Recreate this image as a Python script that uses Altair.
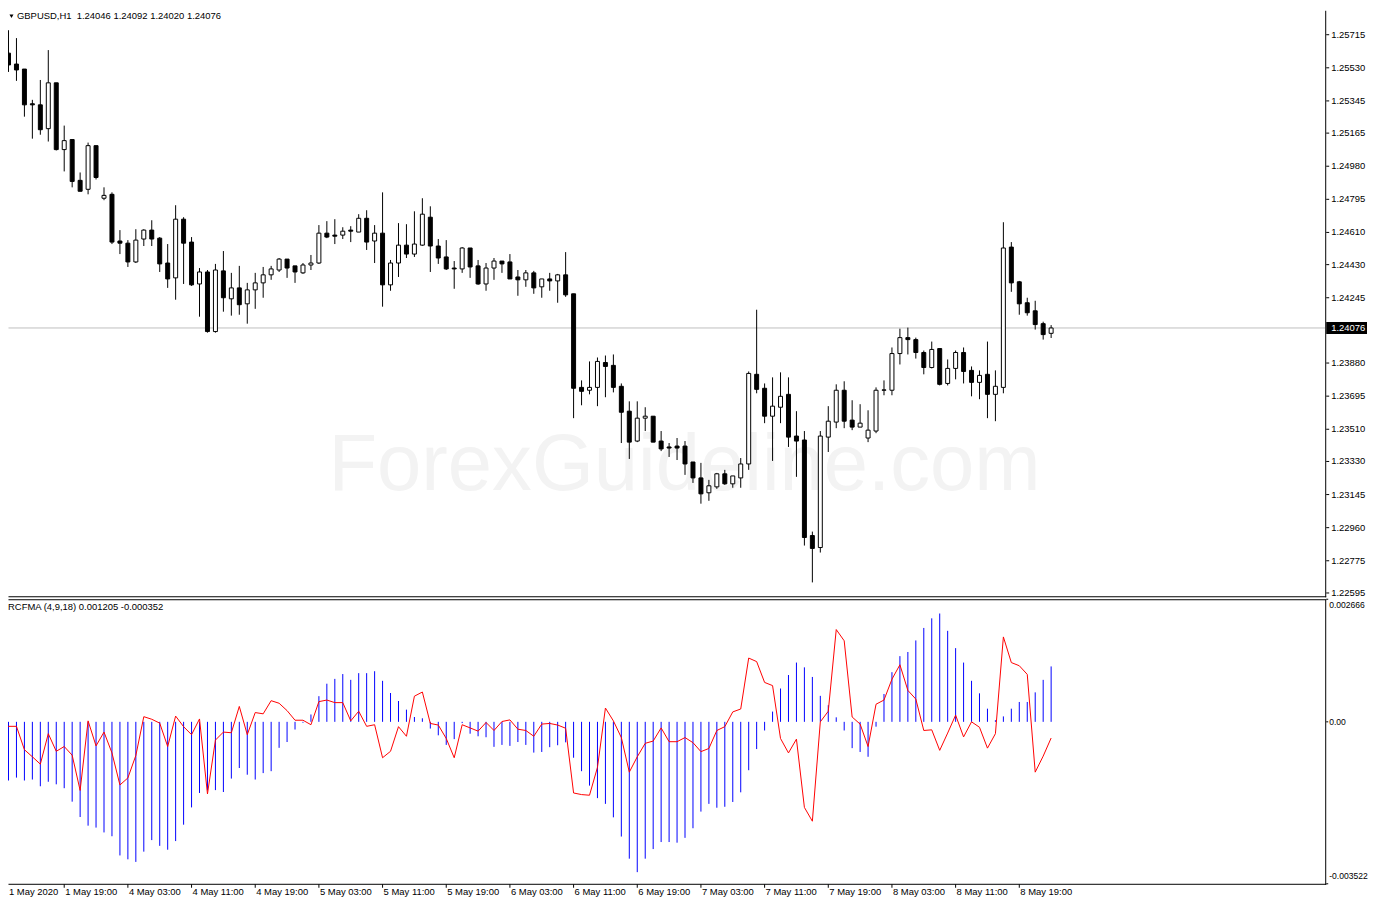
import altair as alt
import pandas as pd

# ---------------- data (GBPUSD, H1) ----------------
bar_index = list(range(133))

opens = [1.25551, 1.25612, 1.25551, 1.25523, 1.25329, 1.25323, 1.25190, 1.25446, 1.25073, 1.25129,
         1.24901, 1.24851, 1.25095, 1.24801, 1.24823, 1.24562, 1.24550, 1.24445, 1.24573, 1.24623,
         1.24578, 1.24439, 1.24356, 1.24684, 1.24556, 1.24322, 1.24389, 1.24056, 1.24395, 1.24239,
         1.24300, 1.24211, 1.24289, 1.24328, 1.24373, 1.24400, 1.24461, 1.24423, 1.24384, 1.24428,
         1.24439, 1.24606, 1.24595, 1.24595, 1.24623, 1.24612, 1.24689, 1.24562, 1.24606, 1.24317,
         1.24439, 1.24539, 1.24489, 1.24539, 1.24695, 1.24534, 1.24473, 1.24411, 1.24406, 1.24523,
         1.24423, 1.24322, 1.24411, 1.24450, 1.24445, 1.24361, 1.24345, 1.24384, 1.24306, 1.24350,
         1.24339, 1.24373, 1.24267, 1.23744, 1.23728, 1.23744, 1.23883, 1.23867, 1.23750, 1.23611,
         1.23444, 1.23572, 1.23583, 1.23444, 1.23411, 1.23416, 1.23416, 1.23327, 1.23238, 1.23155,
         1.23188, 1.23261, 1.23205, 1.23238, 1.23316, 1.23817, 1.23739, 1.23583, 1.23633, 1.23705,
         1.23472, 1.23450, 1.22916, 1.22849, 1.23466, 1.23550, 1.23728, 1.23561, 1.23522, 1.23461,
         1.23500, 1.23728, 1.23728, 1.23933, 1.24022, 1.24011, 1.23939, 1.23855, 1.23961, 1.23766,
         1.23850, 1.23939, 1.23839, 1.23772, 1.23817, 1.23705, 1.23744, 1.24528, 1.24334, 1.24217,
         1.24172, 1.24100, 1.24046]

highs = [1.25674, 1.25740, 1.25696, 1.25523, 1.25351, 1.25462, 1.25629, 1.25446, 1.25207, 1.25129,
         1.24945, 1.25112, 1.25095, 1.24862, 1.24834, 1.24623, 1.24567, 1.24628, 1.24628, 1.24678,
         1.24584, 1.24545, 1.24762, 1.24695, 1.24584, 1.24411, 1.24400, 1.24434, 1.24506, 1.24384,
         1.24423, 1.24328, 1.24384, 1.24417, 1.24423, 1.24467, 1.24461, 1.24423, 1.24439, 1.24484,
         1.24651, 1.24673, 1.24684, 1.24639, 1.24645, 1.24712, 1.24734, 1.24651, 1.24834, 1.24456,
         1.24662, 1.24656, 1.24728, 1.24801, 1.24756, 1.24573, 1.24567, 1.24450, 1.24528, 1.24523,
         1.24456, 1.24439, 1.24467, 1.24450, 1.24489, 1.24400, 1.24400, 1.24395, 1.24350, 1.24384,
         1.24378, 1.24500, 1.24267, 1.23783, 1.23889, 1.23911, 1.23922, 1.23928, 1.23766, 1.23666,
         1.23666, 1.23633, 1.23583, 1.23500, 1.23433, 1.23461, 1.23444, 1.23327, 1.23322, 1.23227,
         1.23266, 1.23283, 1.23249, 1.23349, 1.23833, 1.24178, 1.23766, 1.23800, 1.23828, 1.23800,
         1.23611, 1.23500, 1.22938, 1.23500, 1.23639, 1.23761, 1.23778, 1.23672, 1.23650, 1.23616,
         1.23744, 1.23783, 1.23967, 1.24072, 1.24078, 1.24022, 1.23950, 1.24000, 1.23961, 1.23900,
         1.23950, 1.23967, 1.23861, 1.23839, 1.24000, 1.23839, 1.24667, 1.24556, 1.24339, 1.24245,
         1.24228, 1.24111, 1.24092]

lows = [1.25329, 1.25507, 1.25457, 1.25257, 1.25134, 1.25156, 1.25118, 1.25068, 1.24951, 1.24862,
        1.24840, 1.24823, 1.24906, 1.24790, 1.24545, 1.24489, 1.24417, 1.24439, 1.24534, 1.24534,
        1.24389, 1.24300, 1.24234, 1.24322, 1.24311, 1.24139, 1.24050, 1.24050, 1.24167, 1.24145,
        1.24150, 1.24100, 1.24183, 1.24245, 1.24345, 1.24389, 1.24356, 1.24328, 1.24378, 1.24400,
        1.24434, 1.24578, 1.24545, 1.24573, 1.24556, 1.24612, 1.24512, 1.24439, 1.24195, 1.24284,
        1.24361, 1.24467, 1.24473, 1.24534, 1.24389, 1.24434, 1.24400, 1.24295, 1.24384, 1.24356,
        1.24317, 1.24284, 1.24345, 1.24384, 1.24350, 1.24256, 1.24306, 1.24267, 1.24245, 1.24284,
        1.24217, 1.24250, 1.23572, 1.23644, 1.23705, 1.23639, 1.23689, 1.23716, 1.23433, 1.23344,
        1.23438, 1.23500, 1.23438, 1.23388, 1.23355, 1.23338, 1.23255, 1.23210, 1.23094, 1.23110,
        1.23177, 1.23199, 1.23183, 1.23183, 1.23283, 1.23711, 1.23544, 1.23333, 1.23544, 1.23411,
        1.23244, 1.22860, 1.22654, 1.22821, 1.23383, 1.23516, 1.23516, 1.23505, 1.23522, 1.23438,
        1.23488, 1.23700, 1.23700, 1.23872, 1.23928, 1.23905, 1.23817, 1.23850, 1.23755, 1.23755,
        1.23789, 1.23766, 1.23694, 1.23678, 1.23572, 1.23555, 1.23711, 1.24278, 1.24150, 1.24145,
        1.24067, 1.24011, 1.24020]

closes = [1.25607, 1.25546, 1.25518, 1.25323, 1.25323, 1.25184, 1.25446, 1.25073, 1.25123, 1.24895,
          1.24840, 1.25095, 1.24917, 1.24817, 1.24556, 1.24550, 1.24445, 1.24567, 1.24623, 1.24573,
          1.24434, 1.24350, 1.24684, 1.24550, 1.24317, 1.24389, 1.24056, 1.24400, 1.24245, 1.24300,
          1.24206, 1.24289, 1.24328, 1.24373, 1.24406, 1.24461, 1.24411, 1.24389, 1.24428, 1.24439,
          1.24606, 1.24584, 1.24589, 1.24617, 1.24617, 1.24689, 1.24556, 1.24606, 1.24317, 1.24439,
          1.24539, 1.24489, 1.24545, 1.24712, 1.24534, 1.24467, 1.24406, 1.24406, 1.24523, 1.24417,
          1.24322, 1.24411, 1.24450, 1.24434, 1.24350, 1.24345, 1.24384, 1.24300, 1.24350, 1.24339,
          1.24373, 1.24261, 1.23739, 1.23722, 1.23744, 1.23889, 1.23861, 1.23744, 1.23605, 1.23438,
          1.23572, 1.23583, 1.23438, 1.23400, 1.23405, 1.23405, 1.23316, 1.23238, 1.23149, 1.23194,
          1.23261, 1.23205, 1.23249, 1.23316, 1.23822, 1.23733, 1.23583, 1.23639, 1.23694, 1.23466,
          1.23444, 1.22905, 1.22844, 1.23472, 1.23555, 1.23728, 1.23555, 1.23522, 1.23544, 1.23505,
          1.23728, 1.23730, 1.23933, 1.24022, 1.24011, 1.23939, 1.23855, 1.23956, 1.23761, 1.23850,
          1.23939, 1.23833, 1.23772, 1.23811, 1.23705, 1.23750, 1.24523, 1.24328, 1.24211, 1.24161,
          1.24095, 1.24039, 1.24076]

# RCFMA (4,9,18): histogram (blue) and signal line (red)
rcfma_hist = [-0.001429, -0.001276, -0.001213, -0.001276, -0.001255, -0.001401, -0.001303, -0.001359, -0.001443, -0.001736,
              -0.002070, -0.002258, -0.002300, -0.002405, -0.002488, -0.002906, -0.002990, -0.003046, -0.002823, -0.002572,
              -0.002697, -0.002781, -0.002593, -0.002237, -0.001861, -0.001547, -0.001492, -0.001485, -0.001526, -0.001234,
              -0.001004, -0.001150, -0.001255, -0.001115, -0.001073, -0.000565, -0.000439, -0.000167, -0.000020, 0.000160,
              0.000558, 0.000829, 0.000934, 0.001039, 0.000913, 0.001059, 0.001059, 0.001101, 0.000892, 0.000627,
              0.000453, 0.000265, 0.000105, 0.000077, -0.000146, -0.000293, -0.000502, -0.000376, -0.000028, -0.000258,
              -0.000314, -0.000335, -0.000544, -0.000502, -0.000523, -0.000439, -0.000502, -0.000669, -0.000655, -0.000551,
              -0.000509, -0.000446, -0.000781, -0.001073, -0.001387, -0.001659, -0.001784, -0.002077, -0.002495, -0.002976,
              -0.003269, -0.002976, -0.002767, -0.002614, -0.002614, -0.002628, -0.002523, -0.002314, -0.001952, -0.001784,
              -0.001868, -0.001847, -0.001743, -0.001533, -0.001052, -0.000592, -0.000188, 0.000223, 0.000725, 0.001018,
              0.001289, 0.001185, 0.000976, 0.000565, 0.000362, 0.000098, -0.000188, -0.000572, -0.000655, -0.000760,
              -0.000105, 0.000606, 0.001080, 0.001429, 0.001519, 0.001770, 0.002042, 0.002251, 0.002356, 0.001979,
              0.001603, 0.001289, 0.000892, 0.000620, 0.000286, 0.000035, 0.000118, 0.000286, 0.000432, 0.000432,
              0.000641, 0.000913, 0.001205]

rcfma_signal = [-0.000202, -0.000098, -0.000098, -0.000606, -0.000760, -0.000920, -0.000258, -0.000641, -0.000537, -0.000725,
                -0.001492, 0.000021, -0.000523, -0.000223, -0.000676, -0.001373, -0.001220, -0.000732, 0.000112, 0.000056,
                -0.000028, -0.000537, 0.000125, -0.000105, -0.000279, 0.000063, -0.001568, -0.000397, -0.000223, -0.000237,
                0.000335, -0.000279, 0.000202, 0.000174, 0.000460, 0.000404, 0.000244, 0.000035, 0.000035, -0.000063,
                0.000439, 0.000474, 0.000418, 0.000418, 0.000021, 0.000230, -0.000098, -0.000063, -0.000781, -0.000641,
                -0.000105, -0.000314, 0.000558, 0.000648, -0.000035, -0.000070, -0.000362, -0.000781, -0.000063, -0.000132,
                -0.000202, -0.000014, -0.000188, 0.000007, 0.000042, -0.000160, -0.000188, -0.000314, -0.000049, -0.000035,
                -0.000070, -0.000139, -0.001547, -0.001582, -0.001596, -0.000990, 0.000300, 0.000021, -0.000342, -0.001094,
                -0.000760, -0.000467, -0.000418, -0.000132, -0.000432, -0.000432, -0.000342, -0.000453, -0.000648, -0.000579,
                -0.000188, -0.000105, 0.000216, 0.000279, 0.001387, 0.001310, 0.000857, 0.000788, -0.000362, -0.000676,
                -0.000376, -0.001861, -0.002161, 0.000000, 0.000230, 0.002007, 0.001763, 0.000105, -0.000049, -0.000537,
                0.000383, 0.000474, 0.000927, 0.001241, 0.000683, 0.000495, -0.000188, -0.000174, -0.000620, -0.000244,
                0.000146, -0.000328, 0.000000, -0.000118, -0.000572, -0.000258, 0.001847, 0.001289, 0.001220, 0.001032,
                -0.001094, -0.000746, -0.000352]

time_labels = ["1 May 2020", "1 May 19:00", "4 May 03:00", "4 May 11:00", "4 May 19:00", "5 May 03:00",
               "5 May 11:00", "5 May 19:00", "6 May 03:00", "6 May 11:00", "6 May 19:00", "7 May 03:00",
               "7 May 11:00", "7 May 19:00", "8 May 03:00", "8 May 11:00", "8 May 19:00"]
time_label_bars = [0, 8, 16, 24, 32, 40, 48, 56, 64, 72, 80, 88, 96, 104, 112, 120, 128]

price_ticks = [1.25715, 1.25530, 1.25345, 1.25165, 1.24980, 1.24795, 1.24610, 1.24430, 1.24245,
               1.23880, 1.23695, 1.23510, 1.23330, 1.23145, 1.22960, 1.22775, 1.22595]
ind_ticks = [-0.003522, 0.0, 0.002666]
ind_tick_labels = ["-0.003522", "0.00", "0.002666"]
ind_tick_place = ["bottom", "middle", "top"]

symbol = "GBPUSD,H1"
indicator_name = "RCFMA (4,9,18)"
watermark_text = "ForexGuideline.com"

# ---------------- layout constants ----------------
W = 1324
H_MAIN = 589
H_IND = 286
BAR_PX = 8
x0 = 0.9375
x_dom = [x0, x0 + W / BAR_PX]
y_dom = [1.225766, 1.258515]
ind_dom = [-0.003522, 0.002666]
FONT = "Liberation Sans"
FS = 9.5

# ---------------- tables ----------------
df = pd.DataFrame({
    "k": bar_index, "open": opens, "high": highs, "low": lows, "close": closes,
    "hist": rcfma_hist, "sig": rcfma_signal,
})
df["dir"] = ["up" if c >= o else "down" for o, c in zip(opens, closes)]
df["zero"] = 0.0
last = pd.DataFrame({"price": [closes[-1]]})
price_tick_df = pd.DataFrame({"tick": price_ticks, "label": [f"{v:.5f}" for v in price_ticks]})
time_df = pd.DataFrame({"k": time_label_bars, "label": time_labels})
time_df["kpos"] = [max(k, x0) for k in time_label_bars]
ind_tick_df = pd.DataFrame({"tick": ind_ticks, "label": ind_tick_labels, "place": ind_tick_place})

title_str = f"{symbol}\u00a0\u00a0{opens[-1]:.5f} {highs[-1]:.5f} {lows[-1]:.5f} {closes[-1]:.5f}"
ind_str = f"{indicator_name} {rcfma_hist[-1]:.6f} {rcfma_signal[-1]:.6f}"

xs = alt.Scale(domain=x_dom, nice=False, zero=False, padding=0)
ys = alt.Scale(domain=y_dom, nice=False, zero=False, padding=0)
ys_ind = alt.Scale(domain=ind_dom, nice=False, zero=False, padding=0)
X = alt.X("k:Q", scale=xs, axis=None)


def hline(y, x_end):
    return alt.Chart(last).mark_rule(color="black", strokeWidth=1).encode(
        x=alt.value(0.5), x2=alt.value(x_end), y=alt.value(y))


def vline(x, y_end):
    return alt.Chart(last).mark_rule(color="black", strokeWidth=1).encode(
        x=alt.value(x), y=alt.value(0.5), y2=alt.value(y_end))


# ---------------- main (price) panel ----------------
watermark = alt.Chart(last).mark_text(font=FONT, fontSize=80, color="#f3f3f3", align="center",
                                      baseline="alphabetic").encode(
    x=alt.value(680), y=alt.value(482), text=alt.value(watermark_text))
price_line = alt.Chart(last).mark_rule(color="#c0c0c0", strokeWidth=1).encode(
    x=alt.value(0.5), x2=alt.value(W),
    y=alt.Y("price:Q", scale=ys, axis=None))
wicks = alt.Chart(df).mark_rule(color="black", strokeWidth=1, clip=True).encode(
    x=X, y=alt.Y("low:Q", scale=ys, axis=None), y2="high:Q")
bodies = alt.Chart(df).mark_bar(size=4, stroke="black", strokeWidth=1, clip=True, opacity=1).encode(
    x=X, y=alt.Y("open:Q", scale=ys, axis=None), y2="close:Q",
    fill=alt.Fill("dir:N", scale=alt.Scale(domain=["up", "down"], range=["white", "black"]), legend=None))
title = alt.Chart(last).mark_text(align="left", baseline="middle", font=FONT, fontSize=FS,
                                  color="black").encode(
    x=alt.value(9), y=alt.value(6), text=alt.value(title_str))
tri = alt.Chart(last).mark_point(shape="triangle-down", filled=True, size=16, color="black",
                                 opacity=1).encode(x=alt.value(3.5), y=alt.value(6))
price_tick_marks = alt.Chart(price_tick_df).mark_rule(color="black", strokeWidth=1).encode(
    x=alt.value(W + 1), x2=alt.value(W + 4), y=alt.Y("tick:Q", scale=ys, axis=None))
price_tick_text = alt.Chart(price_tick_df).mark_text(align="left", baseline="middle", font=FONT,
                                                     fontSize=FS, color="black").encode(
    x=alt.value(W + 6), y=alt.Y("tick:Q", scale=ys, axis=None), text="label:N")
price_box = alt.Chart(last).mark_rect(color="black", yOffset=-6, y2Offset=6).encode(
    x=alt.value(W + 1), x2=alt.value(W + 42),
    y=alt.Y("price:Q", scale=ys, axis=None), y2="price:Q")
price_box_text = alt.Chart(last).mark_text(color="white", align="left", baseline="middle",
                                           font=FONT, fontSize=FS).encode(
    x=alt.value(W + 6), y=alt.Y("price:Q", scale=ys, axis=None),
    text=alt.Text("price:Q", format=".5f"))

main = alt.layer(watermark, price_line, wicks, bodies, title, tri,
                 hline(H_MAIN + 0.5, W + 1), vline(W + 0.5, H_MAIN + 1),
                 price_tick_marks, price_tick_text, price_box, price_box_text).properties(
    width=W, height=H_MAIN)

# ---------------- indicator panel ----------------
hist = alt.Chart(df).mark_rule(color="#0000ff", strokeWidth=1, clip=True).encode(
    x=X, y=alt.Y("hist:Q", scale=ys_ind, axis=None), y2="zero:Q")
sig = alt.Chart(df).mark_line(color="#ff0000", strokeWidth=1, clip=True).encode(
    x=X, y=alt.Y("sig:Q", scale=ys_ind, axis=None))
ind_label = alt.Chart(last).mark_text(align="left", baseline="middle", font=FONT, fontSize=FS,
                                      color="black").encode(
    x=alt.value(0), y=alt.value(8), text=alt.value(ind_str))
ind_tick_marks = alt.Chart(ind_tick_df).mark_rule(color="black", strokeWidth=1).encode(
    x=alt.value(W + 1), x2=alt.value(W + 3), y=alt.Y("tick:Q", scale=ys_ind, axis=None))
ind_text_layers = []
for place, dy in (("top", 2), ("middle", 0), ("bottom", -3)):
    ind_text_layers.append(
        alt.Chart(ind_tick_df).transform_filter(alt.datum.place == place).mark_text(
            align="left", baseline=place, dy=dy, font=FONT, fontSize=8.6, color="black").encode(
            x=alt.value(W + 4), y=alt.Y("tick:Q", scale=ys_ind, axis=None), text="label:N"))
time_ticks = alt.Chart(time_df).transform_filter(alt.datum.k > 0).mark_rule(
    color="black", strokeWidth=1).encode(
    x=alt.X("kpos:Q", scale=xs, axis=None), y=alt.value(H_IND + 0.5), y2=alt.value(H_IND + 4))
time_text = alt.Chart(time_df).mark_text(align="left", baseline="top", dx=1, font=FONT,
                                         fontSize=FS, color="black").encode(
    x=alt.X("kpos:Q", scale=xs, axis=None), y=alt.value(H_IND + 3), text="label:N")

ind = alt.layer(hist, sig, ind_label, hline(0.5, W + 1), hline(H_IND + 0.5, W + 1),
                vline(W + 0.5, H_IND + 1), ind_tick_marks,
                *ind_text_layers, time_ticks, time_text).properties(width=W, height=H_IND)

chart = alt.vconcat(main, ind, spacing=3, bounds="flush").properties(
    padding=0, background="white"
).configure_view(stroke=None)

chart.save("out.html", embed_options={"renderer": "svg", "actions": False})
